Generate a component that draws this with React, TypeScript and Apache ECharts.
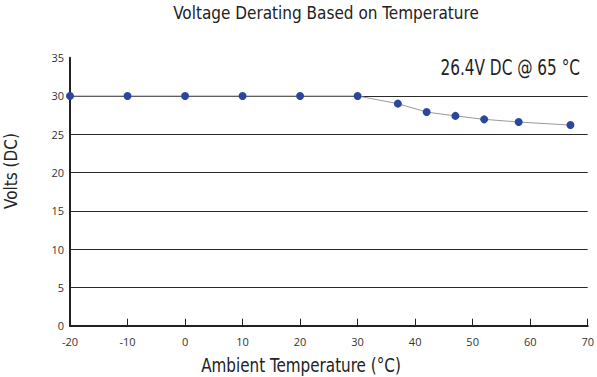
import React, { useEffect, useRef } from "react";
import * as echarts from "echarts";

const temps = [-20, -10, 0, 10, 20, 30, 37, 42, 47, 52, 58, 67];
const volts = [30, 30, 30, 30, 30, 30, 29, 27.9, 27.4, 26.95, 26.6, 26.2];
const xTicks = { min: -20, max: 70, interval: 10 };
const yTicks = { min: 0, max: 35, interval: 5 };
const titleText = "Voltage Derating Based on Temperature";
const noteText = "26.4V DC @ 65 \u00B0C";
const xName = "Ambient Temperature (\u00B0C)";
const yName = "Volts (DC)";

const narrow = '"Liberation Sans Narrow", "DejaVu Sans Condensed", "Roboto", sans-serif';
const body = '"Open Sans", "Noto Sans", sans-serif';

export default function App() {
  const ref = useRef<HTMLDivElement>(null);
  useEffect(() => {
    if (!ref.current) return;
    const chart = echarts.init(ref.current, null, { renderer: "svg" });
    const splitColors = [] as string[];
    for (let v = yTicks.min; v <= yTicks.max; v += yTicks.interval) {
      splitColors.push(v >= yTicks.max ? "transparent" : "#2a2a2a");
    }
    chart.setOption({
      animation: false,
      backgroundColor: "#ffffff",
      graphic: [
        {
          type: "text",
          x: 326,
          y: 13,
          style: {
            text: titleText,
            font: `17px ${narrow}`,
            fill: "#222",
            textAlign: "center",
            textVerticalAlign: "middle",
          },
        },
        {
          type: "text",
          x: 580,
          y: 68,
          scaleX: 0.83,
          style: {
            text: noteText,
            font: `20.5px ${narrow}`,
            fill: "#222",
            textAlign: "right",
            textVerticalAlign: "middle",
          },
        },
        {
          type: "text",
          x: 301,
          y: 365,
          scaleX: 0.89,
          style: {
            text: xName,
            font: `19px ${narrow}`,
            fill: "#222",
            textAlign: "center",
            textVerticalAlign: "middle",
          },
        },
        {
          type: "text",
          x: 11,
          y: 171,
          rotation: Math.PI / 2,
          style: {
            text: yName,
            font: `17px ${narrow}`,
            fill: "#222",
            textAlign: "center",
            textVerticalAlign: "middle",
          },
        },
      ],
      grid: { left: 70, right: 7, top: 57.7, bottom: 51.3 },
      xAxis: {
        type: "value",
        min: xTicks.min,
        max: xTicks.max,
        interval: xTicks.interval,
        axisLine: { show: true, onZero: false, lineStyle: { color: "#222", width: 2 } },
        axisTick: { show: true, inside: true, length: 7, lineStyle: { color: "#222", width: 1 } },
        axisLabel: { fontFamily: body, fontSize: 11, color: "#333", margin: 10 },
        splitLine: { show: false },
      },
      yAxis: {
        type: "value",
        min: yTicks.min,
        max: yTicks.max,
        interval: yTicks.interval,
        axisLine: { show: true, onZero: false, lineStyle: { color: "#222", width: 2 } },
        axisTick: { show: false },
        axisLabel: {
          fontFamily: body,
          fontSize: 11,
          color: "#333",
          margin: 6,
          padding: [0, 0, 8, 0],
        },
        splitLine: { show: true, lineStyle: { color: splitColors, width: 1 } },
      },
      series: [
        {
          type: "line",
          data: temps.map((t, i) => [t, volts[i]]),
          symbol: "circle",
          symbolSize: 8,
          itemStyle: { color: "#2a46a3" },
          lineStyle: { color: "#999", width: 1 },
        },
      ],
    });
    return () => chart.dispose();
  }, []);
  return (
    <div
      ref={ref}
      style={{ position: "absolute", left: 0, top: 0, width: 597, height: 377 }}
    />
  );
}
